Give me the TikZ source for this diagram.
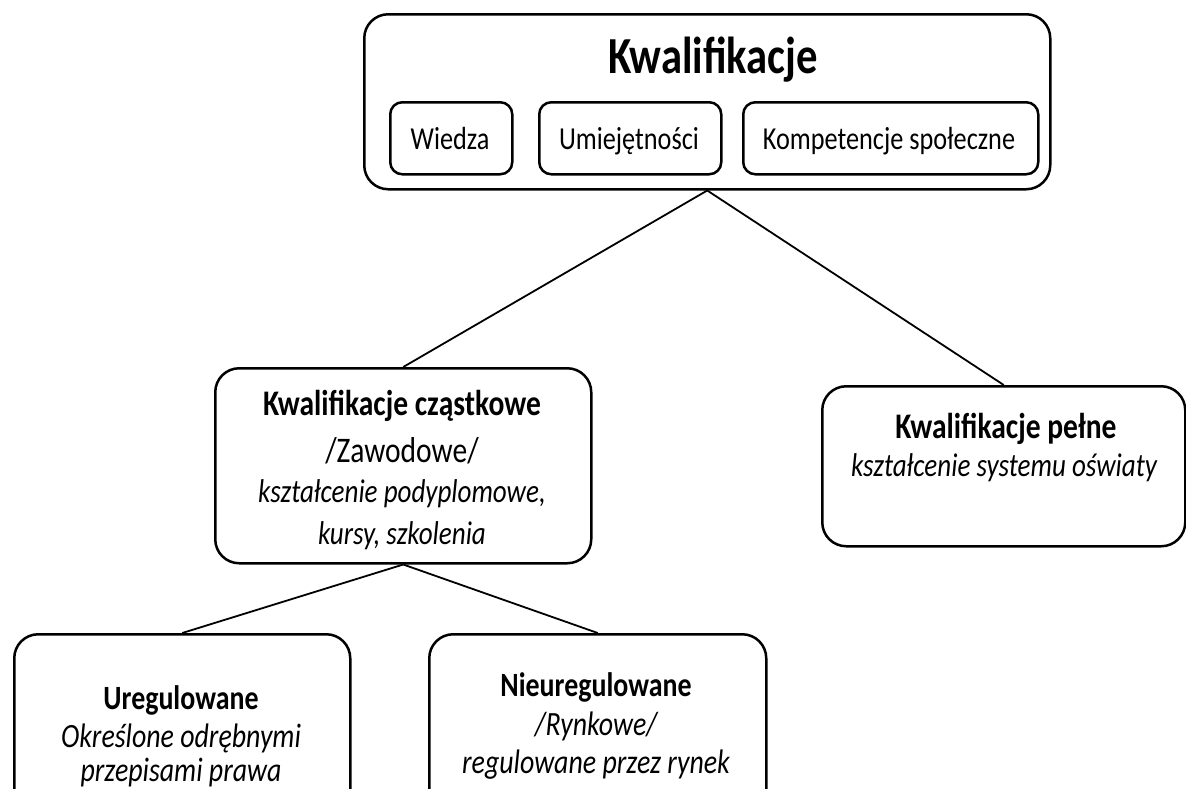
\documentclass[tikz,border=0pt]{standalone}
\usepackage{fontspec}
\setmainfont{Carlito}[FakeStretch=0.82]
\begin{document}
\begin{tikzpicture}[x=1pt,y=-1pt,
  bigbox/.style={draw=black, line width=2.5pt, rounded corners=24pt, anchor=north west, inner sep=0pt},
  smallbox/.style={draw=black, line width=2.5pt, rounded corners=12pt, anchor=north west, inner sep=0pt},
  conn/.style={draw=black, line width=1.8pt},
  txt/.style={anchor=base, inner sep=0pt},
  title/.style={txt, font=\fontsize{52}{56}\selectfont\bfseries},
  small/.style={txt, font=\fontsize{32}{36}\selectfont},
  head/.style={txt, font=\fontsize{36}{40}\selectfont\bfseries},
  plain/.style={txt, font=\fontsize{36}{40}\selectfont},
  ital/.style={txt, font=\fontsize{33}{40}\selectfont\itshape},
  bhead/.style={txt, font=\fontsize{34}{40}\selectfont\bfseries},
  bital/.style={txt, font=\fontsize{34}{40}\selectfont\itshape}
]
\useasboundingbox (0,0) rectangle (1186,788);
\clip (0,0) rectangle (1186,788);

% boxes
\node[bigbox, minimum width=686pt, minimum height=175pt] (top) at (363,13) {};
\node[smallbox, minimum width=122pt, minimum height=72pt] (wiedza) at (389,101) {};
\node[smallbox, minimum width=182pt, minimum height=72pt] (umiej) at (538,101) {};
\node[smallbox, minimum width=295pt, minimum height=72pt] (komp) at (742,101) {};
\node[bigbox, minimum width=376pt, minimum height=195pt] (czast) at (214,367) {};
\node[bigbox, minimum width=363pt, minimum height=160pt] (pelne) at (821,385) {};
\node[bigbox, minimum width=336pt, minimum height=180pt] (ureg) at (13,633) {};
\node[bigbox, minimum width=337pt, minimum height=180pt] (nieureg) at (428,633) {};

% connectors
\draw[conn] (top.south) -- (czast.north);
\draw[conn] (top.south) -- (pelne.north);
\draw[conn] (czast.south) -- (ureg.north);
\draw[conn] (czast.south) -- (nieureg.north);

% texts
\node[title] (t0) at (713,73) {Kwalifikacje};
\node[small] (t1) at (450,149) {Wiedza};
\node[small] (t2) at (629,149) {Umiejętności};
\node[small] (t3) at (889,149) {Kompetencje społeczne};

\node[head] (c1) at (402,415) {Kwalifikacje cząstkowe};
\node[plain] (c2) at (402,462) {/Zawodowe/};
\node[ital] (c3) at (402,502) {kształcenie podyplomowe,};
\node[ital] (c4) at (402,544) {kursy, szkolenia};

\node[head] (p1) at (1006,438) {Kwalifikacje pełne};
\node[ital] (p2) at (1004,476) {kształcenie systemu oświaty};

\node[bhead] (u1) at (181,709) {Uregulowane};
\node[bital] (u2) at (181,747) {Określone odrębnymi};
\node[bital] (u3) at (181,781) {przepisami prawa};

\node[bhead] (n1) at (596,696) {Nieuregulowane};
\node[bital] (n2) at (596,735) {/Rynkowe/};
\node[bital] (n3) at (596,773) {regulowane przez rynek};
\end{tikzpicture}
\end{document}
